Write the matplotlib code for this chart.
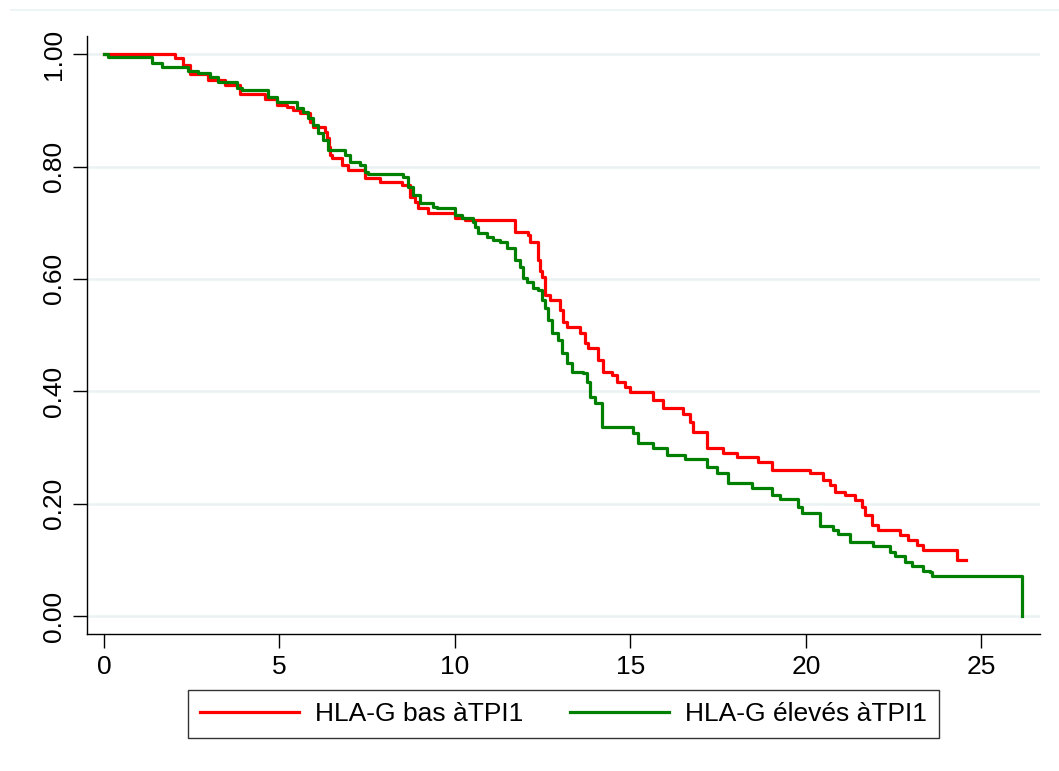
import numpy as np
import matplotlib
matplotlib.use("Agg")
import matplotlib.pyplot as plt
from matplotlib.lines import Line2D

plt.rcParams['font.family'] = ['Liberation Sans', 'DejaVu Sans']

# Kaplan-Meier steps (time of drop, survival after drop)
red_t = [0.0, 2.02, 2.25, 2.45, 2.96, 3.45, 3.87, 4.59, 4.93, 5.21, 5.38, 5.58, 5.87,
         5.95, 6.30, 6.35, 6.41, 6.44, 6.50, 6.78, 6.95, 7.44, 7.86, 8.49, 8.72, 8.86,
         8.95, 9.23, 10.0, 10.28, 11.71, 12.08, 12.14, 12.36, 12.42, 12.48, 12.56,
         12.71, 12.99, 13.08, 13.19, 13.56, 13.70, 13.79, 14.07, 14.22, 14.47, 14.62,
         14.84, 14.99, 15.64, 15.93, 16.50, 16.70, 16.78, 17.18, 17.64, 18.03, 18.63,
         19.03, 20.11, 20.48, 20.68, 20.83, 21.11, 21.40, 21.60, 21.68, 21.88, 22.05,
         22.68, 22.91, 23.16, 23.33, 24.30, 24.56]
red_s = [1.0, 0.993, 0.98, 0.965, 0.954, 0.945, 0.929, 0.92, 0.909, 0.906, 0.90, 0.895,
         0.879, 0.87, 0.862, 0.85, 0.835, 0.82, 0.815, 0.802, 0.794, 0.779, 0.772, 0.767,
         0.746, 0.737, 0.726, 0.717, 0.708, 0.705, 0.683, 0.678, 0.665, 0.633, 0.615,
         0.603, 0.571, 0.562, 0.544, 0.523, 0.514, 0.504, 0.486, 0.477, 0.455, 0.434,
         0.429, 0.416, 0.408, 0.399, 0.384, 0.37, 0.359, 0.345, 0.327, 0.299, 0.29,
         0.283, 0.274, 0.26, 0.254, 0.242, 0.233, 0.221, 0.215, 0.206, 0.194, 0.18,
         0.162, 0.153, 0.144, 0.135, 0.126, 0.117, 0.10, 0.10]

green_t = [0.0, 0.11, 1.37, 1.65, 2.39, 2.68, 3.02, 3.25, 3.79, 3.93, 4.67, 4.93, 5.50,
           5.67, 5.81, 5.95, 6.10, 6.24, 6.38, 6.87, 7.01, 7.29, 7.44, 7.52, 8.52, 8.66,
           8.80, 9.00, 9.37, 9.49, 10.0, 10.2, 10.51, 10.57, 10.66, 10.91, 11.08, 11.28,
           11.48, 11.71, 11.85, 11.94, 12.05, 12.22, 12.36, 12.48, 12.56, 12.65, 12.76,
           12.93, 13.05, 13.19, 13.33, 13.65, 13.76, 13.85, 13.99, 14.19, 15.07, 15.21,
           15.64, 16.04, 16.55, 17.18, 17.46, 17.78, 18.46, 19.03, 19.26, 19.77, 19.89,
           20.40, 20.77, 20.91, 21.25, 21.91, 22.39, 22.54, 22.82, 23.02, 23.33, 23.53,
           23.59, 26.15]
green_s = [1.0, 0.995, 0.984, 0.977, 0.97, 0.966, 0.96, 0.95, 0.94, 0.936, 0.923, 0.915,
           0.904, 0.897, 0.886, 0.874, 0.859, 0.847, 0.829, 0.82, 0.808, 0.802, 0.79,
           0.786, 0.781, 0.763, 0.749, 0.735, 0.728, 0.726, 0.714, 0.708, 0.701, 0.692,
           0.681, 0.674, 0.669, 0.665, 0.655, 0.633, 0.621, 0.601, 0.594, 0.584, 0.58,
           0.562, 0.548, 0.527, 0.504, 0.491, 0.468, 0.45, 0.434, 0.432, 0.416, 0.39,
           0.379, 0.336, 0.326, 0.308, 0.299, 0.286, 0.279, 0.265, 0.254, 0.237, 0.228,
           0.215, 0.208, 0.194, 0.183, 0.16, 0.153, 0.146, 0.132, 0.125, 0.114, 0.107,
           0.096, 0.089, 0.08, 0.078, 0.071, 0.0]

labels = ['HLA-G bas àTPI1', 'HLA-G élevés àTPI1']
y_ticks = [0.0, 0.2, 0.4, 0.6, 0.8, 1.0]
x_ticks = [0, 5, 10, 15, 20, 25]

fig = plt.figure(figsize=(10.59, 7.71), dpi=100)
ax = fig.add_axes([0.0822, 0.1777, 0.8998, 0.7753])

# light horizontal grid
for yv in y_ticks:
    ax.axhline(yv, color='#eaf2f3', linewidth=1.8, zorder=0)

ax.step(red_t, red_s, where='post', color='#ff0000', linewidth=2.3, label=labels[0], zorder=3)
ax.step(green_t, green_s, where='post', color='#008000', linewidth=2.3, label=labels[1], zorder=3)

ax.set_xlim(-0.484, 26.67)
ax.set_ylim(-0.032, 1.032)
ax.set_xticks(x_ticks)
ax.set_yticks(y_ticks)
ax.set_yticklabels([f"{v:.2f}" for v in y_ticks], rotation=90, va='center')
ax.tick_params(axis='both', direction='out', length=10, width=1, labelsize=19, colors='black', pad=5)

ax.spines['top'].set_visible(False)
ax.spines['right'].set_visible(False)
ax.spines['left'].set_linewidth(1)
ax.spines['bottom'].set_linewidth(1)

leg = fig.legend(loc='center', bbox_to_anchor=(0.532, 0.074), ncol=2, fontsize=19,
                 frameon=True, fancybox=False, edgecolor='black', handlelength=3.75,
                 handletextpad=0.6, columnspacing=1.8, borderpad=0.45, borderaxespad=0)
leg.get_frame().set_linewidth(1)
for h in leg.get_lines():
    h.set_linewidth(2.3)

# faint border line at top of the graph region
fig.add_artist(Line2D([0.01, 1.0], [0.987, 0.987], color='#eaf2f3', linewidth=1.2))

fig.savefig('out.png', dpi=100)
